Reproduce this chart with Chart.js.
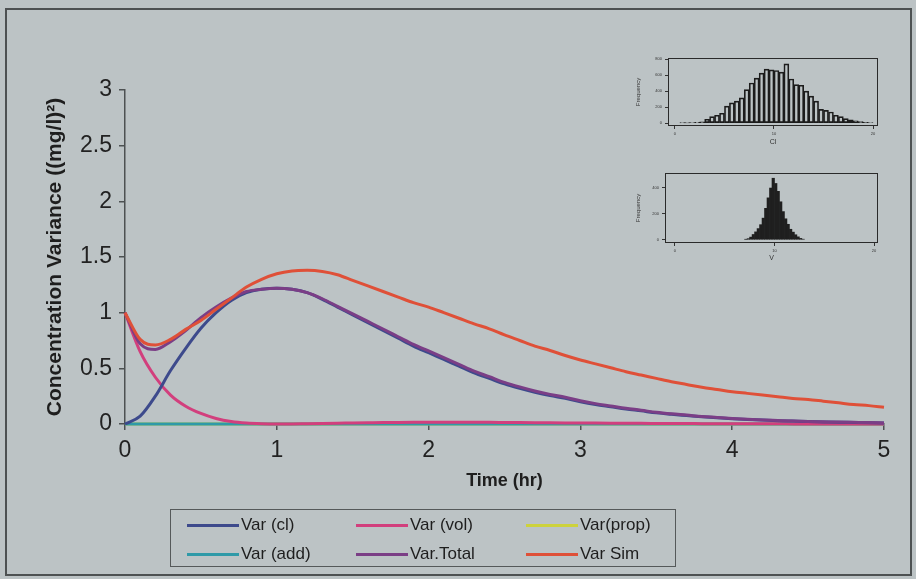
<!DOCTYPE html>
<html>
<head>
<meta charset="utf-8">
<script src="https://cdn.jsdelivr.net/npm/chart.js@4.4.1/dist/chart.umd.min.js"></script>
<style>
  body { margin: 0; background: #bcc3c5; font-family: "Liberation Sans", Arial, sans-serif; }
  #wrap { position: relative; width: 916px; height: 579px; overflow: hidden; }
  #frame { position: absolute; left: 5px; top: 8px; width: 903px; height: 564px; border: 2px solid #4d5152; }
  #main { position: absolute; left: 0; top: 0; }
  #histCl { position: absolute; left: 628px; top: 52px; }
  #histV { position: absolute; left: 625px; top: 167px; }
  #legend { position: absolute; left: 170px; top: 509px; width: 504px; height: 56px; border: 1.5px solid #55595a; }
  .item { position: absolute; height: 20px; font-size: 17px; color: #1e1e1e; white-space: nowrap; }
  .item .swatch { position: absolute; left: 0; top: 9px; width: 52px; height: 3px; }
  .item .label { position: absolute; left: 54px; top: 0; line-height: 20px; }
</style>
</head>
<body>
<div id="wrap">
  <div id="frame"></div>
  <canvas id="main" width="916" height="579"></canvas>
  <canvas id="histCl" width="252" height="100"></canvas>
  <canvas id="histV" width="255" height="100"></canvas>
  <div id="legend"></div>
</div>
<script>
// time grid (hr)
const timeHr = [0, 0.1, 0.2, 0.3, 0.4, 0.5, 0.6, 0.7, 0.8, 0.9,
  1.0, 1.1, 1.2, 1.3, 1.4, 1.5, 1.6, 1.7, 1.8, 1.9,
  2.0, 2.1, 2.2, 2.3, 2.4, 2.5, 2.6, 2.7, 2.8, 2.9,
  3.0, 3.1, 3.2, 3.3, 3.4, 3.5, 3.6, 3.7, 3.8, 3.9,
  4.0, 4.1, 4.2, 4.3, 4.4, 4.5, 4.6, 4.7, 4.8, 4.9, 5.0];

const varCl = [0, 0.07, 0.25, 0.48, 0.68, 0.86, 1.00, 1.11, 1.18, 1.21,
  1.22, 1.21, 1.18, 1.12, 1.05, 0.98, 0.91, 0.84, 0.77, 0.70,
  0.64, 0.58, 0.52, 0.46, 0.41, 0.36, 0.32, 0.285, 0.255, 0.23,
  0.20, 0.175, 0.155, 0.135, 0.118, 0.10, 0.087, 0.076, 0.065, 0.056,
  0.048, 0.041, 0.035, 0.030, 0.026, 0.022, 0.019, 0.016, 0.014, 0.012, 0.010];

const varVol = [1.0, 0.65, 0.42, 0.26, 0.16, 0.095, 0.05, 0.022, 0.008, 0.002,
  0, 0.001, 0.003, 0.005, 0.007, 0.009, 0.011, 0.013, 0.014, 0.015,
  0.016, 0.016, 0.016, 0.015, 0.015, 0.014, 0.013, 0.012, 0.011, 0.010,
  0.009, 0.008, 0.007, 0.006, 0.006, 0.005, 0.004, 0.004, 0.003, 0.003,
  0.002, 0.002, 0.002, 0.002, 0.001, 0.001, 0.001, 0.001, 0.001, 0.001, 0];

const varProp = [0, 0, 0, 0, 0, 0, 0, 0, 0, 0,
  0, 0, 0, 0, 0, 0, 0, 0, 0, 0,
  0, 0, 0, 0, 0, 0, 0, 0, 0, 0,
  0, 0, 0, 0, 0, 0, 0, 0, 0, 0,
  0, 0, 0, 0, 0, 0, 0, 0, 0, 0, 0];

const varAdd = [0, 0, 0, 0, 0, 0, 0, 0, 0, 0,
  0, 0, 0, 0, 0, 0, 0, 0, 0, 0,
  0, 0, 0, 0, 0, 0, 0, 0, 0, 0,
  0, 0, 0, 0, 0, 0, 0, 0, 0, 0,
  0, 0, 0, 0, 0, 0, 0, 0, 0, 0, 0];

const varTotal = [1.0, 0.72, 0.67, 0.74, 0.84, 0.955, 1.05, 1.13, 1.19, 1.21,
  1.22, 1.21, 1.18, 1.125, 1.057, 0.989, 0.921, 0.853, 0.784, 0.715,
  0.656, 0.596, 0.536, 0.475, 0.425, 0.374, 0.333, 0.297, 0.266, 0.24,
  0.209, 0.183, 0.162, 0.141, 0.124, 0.105, 0.091, 0.08, 0.068, 0.059,
  0.05, 0.043, 0.037, 0.032, 0.027, 0.023, 0.02, 0.017, 0.015, 0.013, 0.01];

const varSim = [1.0, 0.76, 0.71, 0.76, 0.85, 0.93, 1.03, 1.13, 1.23, 1.30,
  1.35, 1.375, 1.38, 1.37, 1.34, 1.29, 1.24, 1.19, 1.14, 1.09,
  1.05, 1.00, 0.95, 0.90, 0.855, 0.80, 0.75, 0.70, 0.66, 0.615,
  0.575, 0.54, 0.505, 0.47, 0.44, 0.41, 0.38, 0.355, 0.33, 0.31,
  0.29, 0.275, 0.26, 0.245, 0.23, 0.22, 0.205, 0.19, 0.175, 0.165, 0.15];

const seriesNames = ["Var (cl)", "Var (vol)", "Var(prop)", "Var (add)", "Var.Total", "Var Sim"];
const seriesColors = ["#3d4a8c", "#d23f7d", "#cdd23c", "#2f9aa8", "#7b3e86", "#df5038"];
// lower number is drawn on top
const drawOrder = [2, 3, 5, 4, 1, 0];

// inset histograms
const clBins = [0.25, 0.75, 1.25, 1.75, 2.25, 2.75, 3.25, 3.75, 4.25, 4.75,
  5.25, 5.75, 6.25, 6.75, 7.25, 7.75, 8.25, 8.75, 9.25, 9.75,
  10.25, 10.75, 11.25, 11.75, 12.25, 12.75, 13.25, 13.75, 14.25, 14.75,
  15.25, 15.75, 16.25, 16.75, 17.25, 17.75, 18.25, 18.75, 19.25, 19.75];
const clCounts = [0, 2, 4, 6, 10, 18, 49, 82, 99, 124,
  214, 255, 276, 317, 420, 503, 564, 626, 676, 667,
  659, 638, 742, 552, 482, 474, 400, 338, 276, 173,
  161, 140, 99, 82, 58, 41, 30, 20, 12, 6];

const vBins = [7.125, 7.375, 7.625, 7.875, 8.125, 8.375, 8.625, 8.875,
  9.125, 9.375, 9.625, 9.875, 10.125, 10.375, 10.625, 10.875,
  11.125, 11.375, 11.625, 11.875, 12.125, 12.375, 12.625, 12.875];
const vCounts = [3, 8, 20, 40, 60, 85, 115, 165,
  240, 320, 395, 470, 430, 370, 290, 215,
  160, 118, 80, 58, 38, 22, 10, 4];

Chart.defaults.font.family = '"Liberation Sans", Arial, sans-serif';
Chart.defaults.color = "#222";

const axisColor = "#4d5152";
const seriesData = [varCl, varVol, varProp, varAdd, varTotal, varSim];

const mainChart = new Chart(document.getElementById("main"), {
    type: "line",
    data: {
        datasets: seriesNames.map((name, i) => ({
            label: name,
            data: timeHr.map((t, j) => ({ x: t, y: seriesData[i][j] })),
            borderColor: seriesColors[i],
            backgroundColor: seriesColors[i],
            borderWidth: 3,
            pointRadius: 0,
            order: drawOrder[i],
            cubicInterpolationMode: "monotone",
            clip: false
        }))
    },
    options: {
        responsive: false,
        devicePixelRatio: 1,
        animation: false,
        layout: { padding: { top: 90, right: 32, left: 0, bottom: 0 } },
        plugins: { legend: { display: false }, tooltip: { enabled: false } },
        scales: {
            x: {
                type: "linear", min: 0, max: 5,
                ticks: { stepSize: 1, padding: 7, font: { size: 23 }, color: "#222" },
                grid: { drawOnChartArea: false, tickLength: 6, color: axisColor, lineWidth: 1.5 },
                border: { color: axisColor, width: 1.5 },
                title: { display: true, text: "Time (hr)", color: "#1e1e1e",
                    font: { size: 18, weight: "bold" }, padding: { top: 0, bottom: 87 } },
                afterFit: s => { s.height = 155; }
            },
            y: {
                min: 0, max: 3,
                ticks: { stepSize: 0.5, padding: 7, font: { size: 23 }, color: "#222",
                    callback: v => String(v) },
                grid: { drawOnChartArea: false, tickLength: 6, color: axisColor, lineWidth: 1.5 },
                border: { color: axisColor, width: 1.5 },
                title: { display: true, text: "Concentration Variance ((mg/l)²)", color: "#1e1e1e",
                    font: { size: 21, weight: "bold" }, padding: { top: 43, bottom: 0 } },
                afterFit: s => { s.width = 125; }
            }
        }
    }
});

// html legend, 3 per row
const legendBox = document.getElementById("legend");
const colX = [16, 185, 355];
const rowY = [5, 34];
mainChart.data.datasets.forEach((ds, i) => {
    const item = document.createElement("div");
    item.className = "item";
    item.style.left = colX[i % 3] + "px";
    item.style.top = rowY[Math.floor(i / 3)] + "px";
    item.innerHTML = '<span class="swatch" style="background:' + ds.borderColor + '"></span>' +
        '<span class="label">' + ds.label + '</span>';
    legendBox.appendChild(item);
});

const boxFrame = {
    id: "boxFrame",
    afterDatasetsDraw(chart) {
        const a = chart.chartArea, c = chart.ctx;
        c.save();
        c.strokeStyle = "#2a2a2a";
        c.lineWidth = 1;
        c.strokeRect(a.left + 0.5, a.top + 0.5, a.width - 1, a.height - 1);
        c.restore();
    }
};

function histogram(id, bins, counts, opts) {
    return new Chart(document.getElementById(id), {
        type: "bar",
        data: {
            datasets: [{
                data: bins.map((b, i) => ({ x: b, y: counts[i] })),
                backgroundColor: opts.fill,
                borderColor: "#1c1c1c",
                borderWidth: opts.fill === "transparent" ? 1 : 0,
                borderSkipped: false,
                categoryPercentage: 1,
                barPercentage: 1
            }]
        },
        options: {
            responsive: false,
            devicePixelRatio: 1,
            animation: false,
            layout: { padding: { top: 6, right: 2 } },
            plugins: { legend: { display: false }, tooltip: { enabled: false } },
            scales: {
                x: {
                    type: "linear", min: opts.xMin, max: opts.xMax, offset: false,
                    ticks: { stepSize: 10, includeBounds: false, autoSkip: false,
                        font: { size: 4 }, padding: 2, color: "#333" },
                    grid: { display: true, offset: false, drawOnChartArea: false, tickLength: 3, color: "#333" },
                    border: { display: false },
                    title: { display: true, text: opts.xTitle, font: { size: 7 }, color: "#333",
                        padding: { top: 0, bottom: opts.xTitlePad } },
                    afterFit: s => { s.height = opts.xHeight; }
                },
                y: {
                    min: opts.yMin, max: opts.yMax,
                    ticks: { stepSize: 200, includeBounds: false, autoSkip: false,
                        font: { size: 4 }, padding: 3, color: "#333" },
                    grid: { display: true, drawOnChartArea: false, tickLength: 3, color: "#333" },
                    border: { display: false },
                    title: { display: true, text: "Frequency", font: { size: 6 }, color: "#333",
                        padding: { top: opts.yTitlePad, bottom: 0 } },
                    afterFit: s => { s.width = 40; }
                }
            }
        },
        plugins: [boxFrame]
    });
}

histogram("histCl", clBins, clCounts, {
    fill: "transparent", xMin: -0.7, xMax: 20.5, yMin: -35, yMax: 815,
    xTitle: "Cl", xTitlePad: 6, xHeight: 26, yTitlePad: 7
});
histogram("histV", vBins, vCounts, {
    fill: "#1f1f1f", xMin: -1.0, xMax: 20.4, yMin: -25, yMax: 510,
    xTitle: "V", xTitlePad: 5, xHeight: 24, yTitlePad: 10
});
</script>
</body>
</html>
